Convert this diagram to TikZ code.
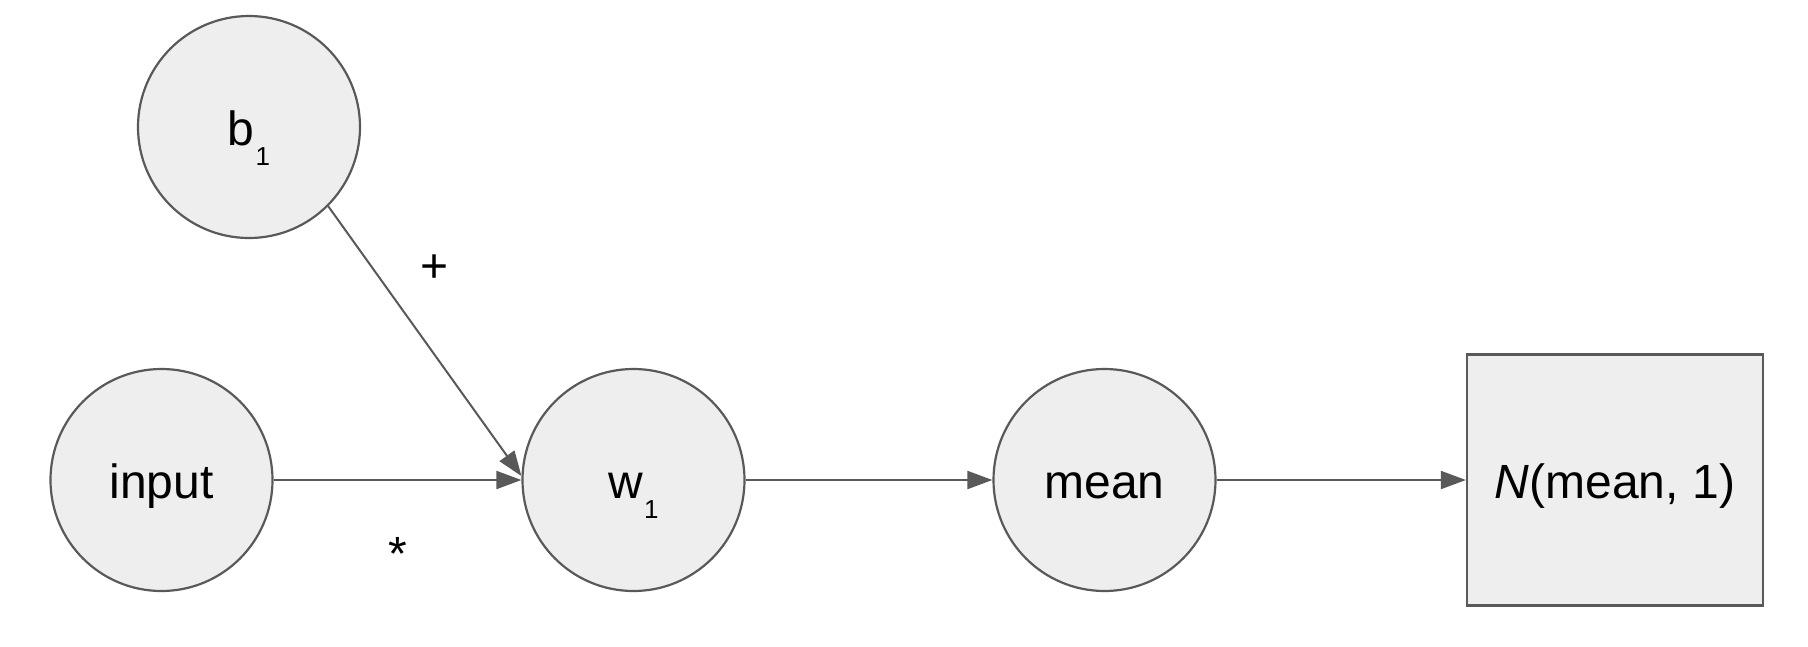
\documentclass[tikz,border=0pt]{standalone}
\usepackage{fontspec}
\setmainfont{Liberation Sans}
\usetikzlibrary{arrows.meta}
\definecolor{strokegray}{HTML}{595959}
\definecolor{fillgray}{HTML}{EEEEEE}
\newcommand{\mysubscr}[1]{\hspace{1pt}\raisebox{-20pt}[0pt][0pt]{\fontsize{26}{26}\selectfont #1}}
\begin{document}
\begin{tikzpicture}[x=1pt,y=-1pt,
  every node/.style={font=\fontsize{48}{48}\selectfont, text=black},
  varnode/.style={circle, draw=strokegray, fill=fillgray, line width=2.2pt,
    minimum size=222pt, inner sep=0pt, text height=36pt, text depth=0pt},
  distbox/.style={rectangle, draw=strokegray, fill=fillgray, line width=2.2pt,
    minimum width=296pt, minimum height=251pt, inner sep=0pt, text height=36pt, text depth=0pt},
  conn/.style={draw=strokegray, line width=2pt,
    -{Triangle[length=25pt,width=18pt]}},
  oplabel/.style={anchor=base, inner sep=0pt}
]
\useasboundingbox (0,0) rectangle (1808,646);
\node[varnode] (b1) at (249,127) {b\mysubscr{1}};
\node[varnode] (input) at (161.5,480) {input};
\node[varnode] (w1) at (633.5,480) {w\mysubscr{1}};
\node[varnode] (mean) at (1104.5,480) {mean};
\node[distbox] (dist) at (1615,480) {\textit{N}(mean, 1)};
\draw[conn] (b1.-45) -- (w1.178);
\draw[conn] (input) -- (w1);
\draw[conn] (w1) -- (mean);
\draw[conn] (mean) -- (dist);
\node[oplabel] (plus) at (435,282) {+};
\node[oplabel] (times) at (398,570) {*};
\end{tikzpicture}
\end{document}
